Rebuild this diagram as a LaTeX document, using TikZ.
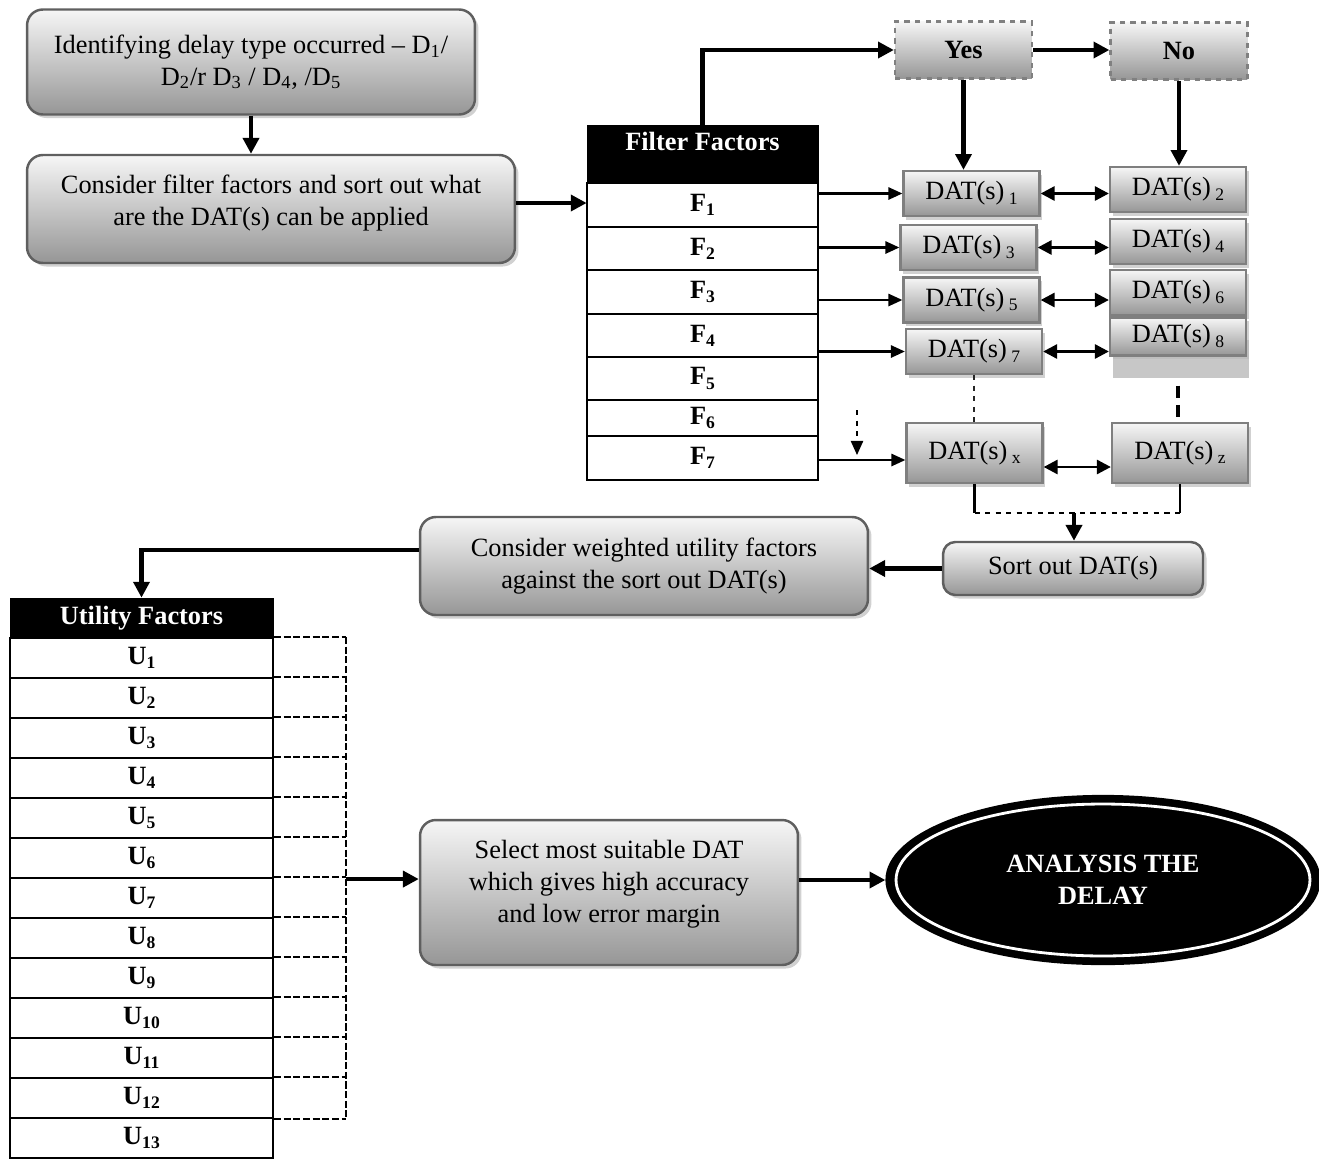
\documentclass[tikz,border=0pt]{standalone}
\usepackage{fontspec}
\setmainfont{Liberation Serif}
\usepackage{tikz}
\usetikzlibrary{shapes.geometric, arrows.meta, positioning, shadows}
\definecolor{boxedge}{RGB}{95,95,95}
\definecolor{boxtop}{RGB}{246,246,246}
\definecolor{boxbot}{RGB}{150,150,150}
\newcommand{\lowidx}[1]{\raisebox{-0.35ex}{\fontsize{10}{12}\selectfont #1}}

\begin{document}
\begin{tikzpicture}[x=0.02cm, y=-0.02cm, font=\fontsize{15}{18}\selectfont,
  rbox/.style={draw=boxedge, line width=1.4pt, rounded corners=9pt, top color=boxtop,
    bottom color=boxbot, align=center, inner sep=2pt,
    drop shadow={shadow xshift=2pt, shadow yshift=-2pt, fill=gray!45, opacity=.8}},
  dat/.style={draw=boxedge!80, line width=1.3pt, top color=boxtop, bottom color=boxbot,
    minimum width=2.72cm, minimum height=0.9cm, inner sep=1pt,
    drop shadow={shadow xshift=1.5pt, shadow yshift=-2pt, fill=gray!45, opacity=.8}},
  yn/.style={draw=gray, dashed, line width=1.3pt, top color=boxtop, bottom color=boxbot,
    minimum width=2.74cm, minimum height=1.14cm, font=\fontsize{15}{18}\selectfont\bfseries},
  hdr/.style={draw, fill=black, text=white, font=\fontsize{15}{18}\selectfont\bfseries, inner sep=0pt},
  frow/.style={draw, line width=1.2pt, fill=white, minimum width=4.62cm, inner sep=0pt,
    font=\fontsize{15}{18}\selectfont\bfseries},
  urow/.style={draw, line width=1.2pt, fill=white, minimum width=5.26cm, minimum height=0.8cm,
    inner sep=0pt, font=\fontsize{15}{18}\selectfont\bfseries},
  thk/.style={line width=2.4pt, -{Triangle[length=9pt, width=9pt]}},
  thn/.style={line width=1.2pt, -{Triangle[length=8pt, width=7pt]}},
  dbl/.style={line width=1.6pt, {Triangle[length=8pt, width=8pt]}-{Triangle[length=8pt, width=8pt]}},
  brk/.style={line width=1.1pt, dash pattern=on 4pt off 1.5pt}]
  \useasboundingbox (0,0) rectangle (1319,1160);

  % left-hand boxes
  \node[rbox, minimum width=8.96cm, minimum height=2.1cm] (ident) at (251,62)
    {Identifying delay type occurred -- D\textsubscript{1}/\\
     D\textsubscript{2}/r D\textsubscript{3} / D\textsubscript{4}, /D\textsubscript{5}};
  \node[rbox, minimum width=9.76cm, minimum height=2.16cm, text depth=0.35cm] (consider) at (271,209)
    {Consider filter factors and sort out what\\ are the DAT(s) can be applied};

  % filter factors table
  \node[hdr, minimum width=4.62cm, minimum height=1.16cm, text depth=0.5cm] (ffhead) at (702.5,154) {Filter Factors};
  \foreach \i/\yc/\h in {1/205/0.88, 2/248.5/0.86, 3/292/0.88, 4/335.5/0.86,
                         5/378.5/0.86, 6/418/0.72, 7/458/0.88}
    \node[frow, minimum height=\h cm] (f\i) at (702.5,\yc) {F\lowidx{\i}};

  % yes / no
  \node[yn] (yes) at (963.5,50) {Yes};
  \node[yn] (no) at (1179,51) {No};

  % DAT(s) boxes
  \node[dat] (d1) at (971.5,193.5) {DAT(s)\,\lowidx{1}};
  \node[dat] (d2) at (1178,189.5) {DAT(s)\,\lowidx{2}};
  \node[dat] (d3) at (968.5,247.5) {DAT(s)\,\lowidx{3}};
  \node[dat] (d4) at (1178,241.5) {DAT(s)\,\lowidx{4}};
  \node[dat] (d5) at (971.5,300) {DAT(s)\,\lowidx{5}};
  \node[dat] (d6) at (1178,292.5) {DAT(s)\,\lowidx{6}};
  \node[dat] (d7) at (974,351.5) {DAT(s)\,\lowidx{7}};
  \node[dat, minimum height=0.76cm,
    drop shadow={shadow xshift=1.5pt, shadow yshift=-13pt, fill=gray!55, opacity=.8}]
    (d8) at (1178,336.5) {DAT(s)\,\lowidx{8}};
  \node[dat, minimum height=1.2cm] (dx) at (974.5,453) {DAT(s)\,\lowidx{x}};
  \node[dat, minimum height=1.2cm] (dz) at (1180,453) {DAT(s)\,\lowidx{z}};

  \node[rbox, minimum width=5.2cm, minimum height=1.06cm, rounded corners=7pt] (sortout) at (1073,568.5) {Sort out DAT(s)};
  \node[rbox, minimum width=8.96cm, minimum height=1.96cm] (wt) at (644,566)
    {Consider weighted utility factors\\ against the sort out DAT(s)};

  % utility factors table
  \node[hdr, minimum width=5.26cm, minimum height=0.8cm] (uhead) at (141.5,618) {Utility Factors};
  \foreach \i in {1,...,13}
    \node[urow] (u\i) at (141.5,{658+40*(\i-1)}) {U\lowidx{\i}};

  \node[rbox, minimum width=7.56cm, minimum height=2.9cm, text depth=0.45cm] (sel) at (609,892.5)
    {Select most suitable DAT\\ which gives high accuracy\\ and low error margin};

  \node[ellipse, fill=black, draw=black, line width=3pt, minimum width=8.6cm, minimum height=3.3cm,
    text=white, align=center, font=\fontsize{15}{18}\selectfont\bfseries] (an) at (1103,880)
    {ANALYSIS THE\\ DELAY};
  \draw[white, line width=1.6pt] (an.center) ellipse [x radius=4.14cm, y radius=1.52cm];

  % connectors
  \draw[thk] (ident.south) -- (ident.south |- consider.north);
  \draw[thk] ([yshift=0.12cm]consider.east) -- ([yshift=0.12cm]consider.east -| ffhead.west);
  \draw[thk] (ffhead.north) |- (yes.west);
  \draw[thk] (yes.east) -- (yes.east -| no.west);
  \draw[thk] (yes.south) -- (yes.south |- d1.north);
  \draw[thk] (no.south) -- (no.south |- d2.north);

  \draw[thn] (d1.west -| f1.east) -- (d1.west);
  \draw[thn] (d3.west -| f2.east) -- (d3.west);
  \draw[thn] (d5.west -| f3.east) -- (d5.west);
  \draw[thn] (d7.west -| f4.east) -- (d7.west);
  \draw[thn] ([yshift=-0.14cm]dx.west -| f7.east) -- ([yshift=-0.14cm]dx.west);
  \coordinate (dd1) at (857,410);
  \coordinate (dd2) at (857,455);
  \draw[thn, line width=0.8pt, dashed] (dd1) -- (dd2);

  \draw[dbl] (d1.east) -- (d1.east -| d2.west);
  \draw[dbl] (d3.east) -- (d3.east -| d4.west);
  \draw[dbl] (d5.east) -- (d5.east -| d6.west);
  \draw[dbl] (d7.east) -- (d7.east -| d8.west);
  \draw[dbl] ([yshift=-0.28cm]dx.east) -- ([yshift=-0.28cm]dx.east -| dz.west);

  \draw[line width=1pt, dashed, gray!30!black] (d7.south) -- (d7.south |- dx.north);
  \draw[line width=2.4pt, dash pattern=on 7pt off 4pt, shorten <=0.58cm] (d8.south) -- (d8.south |- dz.north);

  \coordinate (jn) at (1074,513);
  \draw[line width=1.2pt] (dx.south) -- (dx.south |- jn);
  \draw[line width=1.2pt] (dz.south) -- (dz.south |- jn);
  \draw[line width=1.5pt, dashed] (dx.south |- jn) -- (dz.south |- jn);
  \draw[thk] (jn) -- (jn |- sortout.north);

  \draw[thk] (sortout.west) -- (sortout.west -| wt.east);
  \draw[thk] ([yshift=0.32cm]wt.west) -| (uhead.north);

  % bracket round the utility rows
  \foreach \i in {1,...,12}
    \draw[brk] (u\i.north east) -- ++(72,0);
  \draw[brk] (u12.south east) -- ++(72,0);
  \draw[brk] ([xshift=1.44cm]u1.north east) -- ([xshift=1.44cm]u12.south east);
  \coordinate (ubr) at ([xshift=1.44cm]u6.south east);
  \draw[thk] (ubr) -- (ubr -| sel.west);
  \draw[thk] (sel.east |- an.west) -- (an.west);
\end{tikzpicture}
\end{document}
